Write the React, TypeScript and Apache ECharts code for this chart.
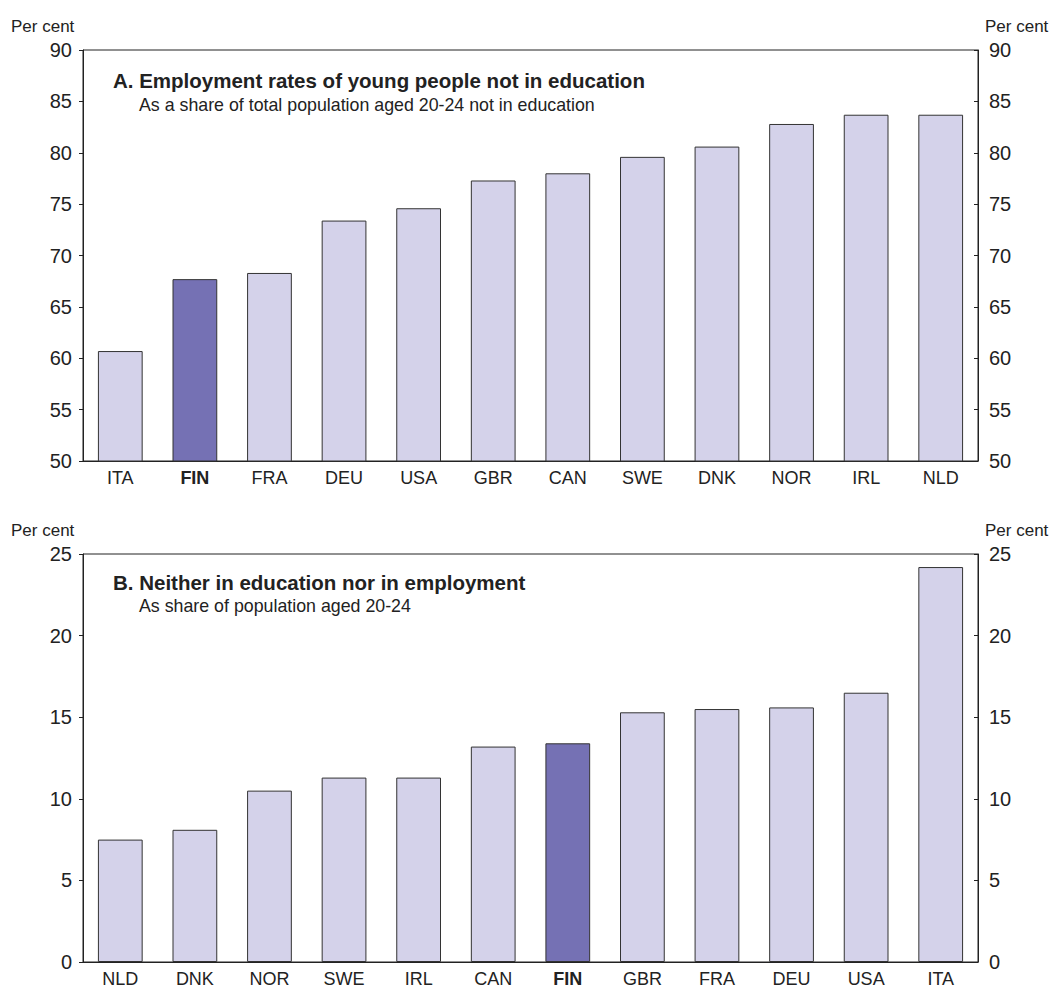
import React, { useEffect, useRef } from "react";
import * as echarts from "echarts";

const catsA = ["ITA", "FIN", "FRA", "DEU", "USA", "GBR", "CAN", "SWE", "DNK", "NOR", "IRL", "NLD"];
const valsA = [60.7, 67.7, 68.3, 73.4, 74.6, 77.3, 78.0, 79.6, 80.6, 82.8, 83.7, 83.7];
const catsB = ["NLD", "DNK", "NOR", "SWE", "IRL", "CAN", "FIN", "GBR", "FRA", "DEU", "USA", "ITA"];
const valsB = [7.5, 8.1, 10.5, 11.3, 11.3, 13.2, 13.4, 15.3, 15.5, 15.6, 16.5, 24.2];
const highlight = "FIN";
const titleA = "A. Employment rates of young people not in education";
const subA = "As a share of total population aged 20-24 not in education";
const titleB = "B. Neither in education nor in employment";
const subB = "As share of population aged 20-24";
const unit = "Per cent";

const FONT = "'Liberation Sans', Arial, sans-serif";
const TXT = "#222";
const LIGHT = "#d4d2ea";
const DARK = "#7571b4";

export default function App() {
  const ref = useRef<HTMLDivElement>(null);
  useEffect(() => {
    const chart = echarts.init(ref.current!, null, { renderer: "svg" });
    const gridA = { left: 83, right: 75, top: 50, height: 411 };
    const gridB = { left: 83, right: 75, top: 554, height: 410 };
    const xAxisBase = (cats: string[], gi: number) => ({
      type: "category",
      data: cats,
      gridIndex: gi,
      axisLine: { lineStyle: { color: TXT, width: 1 } },
      axisTick: { show: false },
      axisLabel: {
        margin: 8,
        fontSize: 18,
        color: TXT,
        fontFamily: FONT,
        formatter: (v: string) => (v === highlight ? `{b|${v}}` : v),
        rich: { b: { fontWeight: "bold", fontSize: 18, color: TXT, fontFamily: FONT } },
      },
    });
    const yAxisBase = (gi: number, min: number, max: number, pos: "left" | "right") => ({
      type: "value",
      gridIndex: gi,
      position: pos,
      min,
      max,
      interval: 5,
      splitLine: { show: false },
      axisLine: { show: true, lineStyle: { color: TXT, width: 1 } },
      axisTick: { show: true, length: 4, inside: pos === "right", lineStyle: { color: TXT } },
      axisLabel: { fontSize: 20, color: TXT, fontFamily: FONT, margin: 11 },
    });
    const barData = (cats: string[], vals: number[]) =>
      vals.map((v, i) => ({
        value: v,
        itemStyle: { color: cats[i] === highlight ? DARK : LIGHT },
      }));
    const txt = (text: string, x: number, y: number, size: number, bold = false, align = "left") => ({
      type: "text",
      x,
      y,
      style: {
        text,
        fill: TXT,
        font: `${bold ? "bold " : ""}${size}px ${FONT}`,
        align,
        verticalAlign: "middle",
      },
    });
    chart.setOption({
      animation: false,
      backgroundColor: "#fff",
      grid: [
        { ...gridA, show: true, borderColor: TXT, borderWidth: 1, backgroundColor: "transparent" },
        { ...gridB, show: true, borderColor: TXT, borderWidth: 1, backgroundColor: "transparent" },
      ],
      xAxis: [xAxisBase(catsA, 0), xAxisBase(catsB, 1)],
      yAxis: [
        yAxisBase(0, 50, 90, "left"),
        yAxisBase(0, 50, 90, "right"),
        yAxisBase(1, 0, 25, "left"),
        yAxisBase(1, 0, 25, "right"),
      ],
      series: [
        {
          type: "bar",
          xAxisIndex: 0,
          yAxisIndex: 0,
          barWidth: "60%",
          data: barData(catsA, valsA),
          itemStyle: { borderColor: "#333", borderWidth: 1 },
        },
        {
          type: "bar",
          xAxisIndex: 1,
          yAxisIndex: 2,
          barWidth: "60%",
          data: barData(catsB, valsB),
          itemStyle: { borderColor: "#333", borderWidth: 1 },
        },
      ],
      graphic: [
        txt(unit, 11, 26, 17),
        txt(unit, 985, 26, 17),
        txt(titleA, 113, 80, 20.5, true),
        txt(subA, 139, 105, 17.8),
        txt(unit, 11, 530, 17),
        txt(unit, 985, 530, 17),
        txt(titleB, 113, 582, 20.5, true),
        txt(subB, 139, 606, 17.8),
      ],
    });
    return () => chart.dispose();
  }, []);
  return (
    <div
      ref={ref}
      style={{ position: "absolute", left: 0, top: 0, width: 1053, height: 988 }}
    />
  );
}
